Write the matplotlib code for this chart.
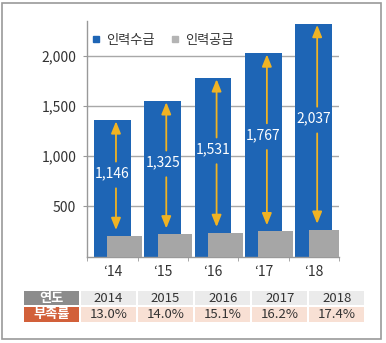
import numpy as np
import matplotlib.pyplot as plt
from matplotlib.patches import Rectangle
from matplotlib.lines import Line2D

plt.rcParams['font.family'] = ['Noto Sans CJK KR', 'DejaVu Sans']

# data
years = ['2014', '2015', '2016', '2017', '2018']
short_years = ['\u201814', '\u201815', '\u201816', '\u201817', '\u201818']
demand = [1360, 1550, 1778, 2025, 2318]      # 인력수급
supply = [208, 224, 238, 255, 270]           # 인력공급
gap_labels = ['1,146', '1,325', '1,531', '1,767', '2,037']
shortage = ['13.0%', '14.0%', '15.1%', '16.2%', '17.4%']

blue = '#1E65B5'
grey = '#A6A6A6'
gold = '#F0B323'

W, H = 386, 343
fig = plt.figure(figsize=(W / 100, H / 100), dpi=100)

# main chart axes, placed in pixel terms
x0, x1, ybot, ytop = 87.3, 338.8, 256.7, 21.3
ax = fig.add_axes([x0 / W, (H - ybot) / H, (x1 - x0) / W, (ybot - ytop) / H])

x = np.arange(len(years))
ax.bar(x, demand, width=0.73, color=blue, zorder=2)
ax.bar(x + 0.245, supply, width=0.69, color=grey, zorder=3)

for i in range(len(years)):
    ly = supply[i] + 0.54 * (demand[i] - supply[i])
    ax.text(x[i], ly, gap_labels[i], color='white', fontsize=10,
            ha='center', va='center', zorder=6)
    ax_x = x[i] + 0.07
    style = '-|>,head_length=0.72,head_width=0.29'
    ax.annotate('', xy=(ax_x, demand[i] - 14), xytext=(ax_x, ly + 115),
                arrowprops=dict(arrowstyle=style, mutation_scale=10, lw=1.3,
                                color=gold, shrinkA=0, shrinkB=0), zorder=5)
    ax.annotate('', xy=(ax_x, supply[i] + 57), xytext=(ax_x, ly - 150),
                arrowprops=dict(arrowstyle=style, mutation_scale=10, lw=1.3,
                                color=gold, shrinkA=0, shrinkB=0), zorder=5)

ax.set_xlim(-0.5, 4.5)
ax.set_ylim(0, 2340)
ax.set_yticks([500, 1000, 1500, 2000])
ax.set_yticklabels(['500', '1,000', '1,500', '2,000'])
ax.yaxis.grid(True, color='#A8A8A8', lw=1, zorder=0)
ax.set_axisbelow(True)
ax.set_xticks(x)
ax.set_xticklabels(short_years)
ax.set_xticks(np.arange(-0.5, 5, 1), minor=True)
ax.tick_params(axis='x', which='major', length=0, pad=6, labelsize=10, labelcolor='#333333')
ax.tick_params(axis='x', which='minor', length=3, color='#999999', direction='out')
ax.tick_params(axis='y', length=3, color='#999999', pad=5, labelsize=10, labelcolor='#333333')
for s in ['top', 'right']:
    ax.spines[s].set_visible(False)
for s in ['left', 'bottom']:
    ax.spines[s].set_color('#999999')
    ax.spines[s].set_linewidth(1)

handles = [Line2D([], [], ls='none', marker='s', markersize=4.5, color=blue),
           Line2D([], [], ls='none', marker='s', markersize=4.5, color='#B4B4B4')]
ax.legend(handles, ['인력수급', '인력공급'], loc='center left',
          bbox_to_anchor=(-0.005, 0.918), ncol=2, frameon=False,
          fontsize=9.5, handlelength=0.5, handletextpad=0.5,
          columnspacing=1.3, borderpad=0, labelcolor='#333333')

# overlay in pixel coordinates for frame and table
ov = fig.add_axes([0, 0, 1, 1], zorder=-1)
ov.set_xlim(0, W)
ov.set_ylim(H, 0)
ov.axis('off')
ov.add_patch(Rectangle((2.3, 3.3), 378.4, 336, fill=False, ec='#9A9A9A', lw=1.2))

ov2 = fig.add_axes([0, 0, 1, 1], zorder=5)
ov2.set_xlim(0, W)
ov2.set_ylim(H, 0)
ov2.axis('off')
ov2.add_patch(Rectangle((24, 291), 55, 14, color='#8C8C8C', lw=0))
ov2.text(51.5, 298, '연도', color='white', fontsize=9.5, ha='center', va='center', fontweight='bold')
ov2.add_patch(Rectangle((24, 306.5), 55, 15, color='#D2603A', lw=0))
ov2.text(51.5, 314, '부족률', color='white', fontsize=9.5, ha='center', va='center', fontweight='bold')
for i in range(len(years)):
    cx = 81 + i * 57.1
    ov2.add_patch(Rectangle((cx, 291), 55, 14, color='#EBEBEB', lw=0))
    ov2.text(cx + 27.5, 298, years[i], color='#333333', fontsize=9.5, ha='center', va='center')
    ov2.add_patch(Rectangle((cx, 306.5), 55, 15, color='#F8E0D4', lw=0))
    ov2.text(cx + 27.5, 314, shortage[i], color='#333333', fontsize=9.5, ha='center', va='center')

fig.savefig('out.png', dpi=100)
